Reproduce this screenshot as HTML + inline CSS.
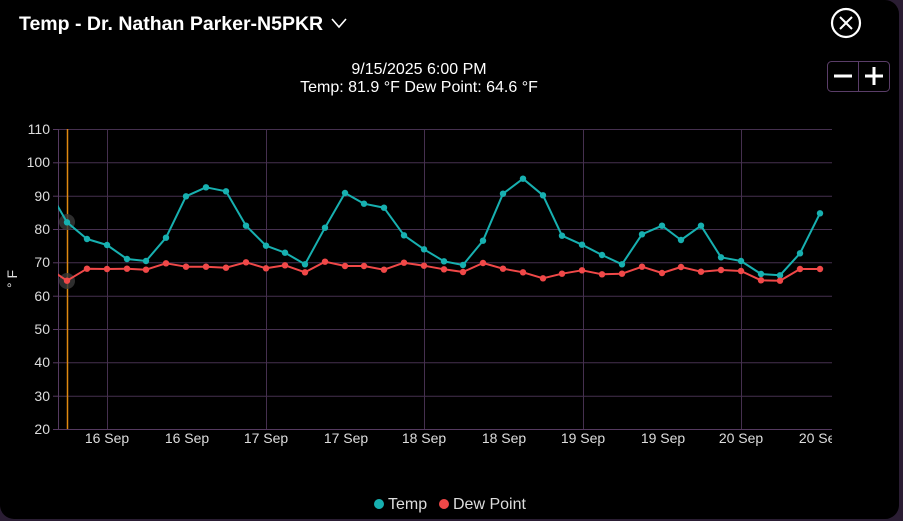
<!DOCTYPE html>
<html><head><meta charset="utf-8"><style>
html,body{margin:0;padding:0;background:#2a1d33;width:903px;height:521px;overflow:hidden}
#p{position:absolute;left:0;top:0;width:899px;height:519px;background:#000;border-radius:0 14px 14px 14px}
svg{position:absolute;left:0;top:0}
text{font-family:"Liberation Sans",sans-serif}
</style></head><body><div id="p"></div>
<svg width="903" height="521" xmlns="http://www.w3.org/2000/svg">
<text x="19" y="30" fill="#fff" font-size="19.5" font-weight="bold">Temp - Dr. Nathan Parker-N5PKR</text>
<polyline points="332,19 339,27 346,19" fill="none" stroke="#fff" stroke-width="1.6"/>
<circle cx="846" cy="23" r="14" fill="none" stroke="#fff" stroke-width="2.2"/>
<path d="M840,17 L852,29 M852,17 L840,29" stroke="#fff" stroke-width="2"/>
<rect x="827.5" y="61.5" width="62" height="30" rx="4" fill="none" stroke="#5a3d68"/>
<line x1="858.5" y1="62" x2="858.5" y2="91" stroke="#5a3d68"/>
<path d="M834,76 H852 M865,76 H883 M874,67 V85" stroke="#fff" stroke-width="3"/>
<text x="419" y="74" fill="#fff" font-size="16" text-anchor="middle">9/15/2025 6:00 PM</text>
<text x="419" y="92" fill="#fff" font-size="16" text-anchor="middle">Temp: 81.9 °F  Dew Point: 64.6 °F</text>
<g stroke="#45304f" stroke-width="1">
<line x1="58" y1="129.5" x2="832" y2="129.5"/><line x1="58" y1="162.8" x2="832" y2="162.8"/><line x1="58" y1="196.2" x2="832" y2="196.2"/><line x1="58" y1="229.5" x2="832" y2="229.5"/><line x1="58" y1="262.8" x2="832" y2="262.8"/><line x1="58" y1="296.2" x2="832" y2="296.2"/><line x1="58" y1="329.5" x2="832" y2="329.5"/><line x1="58" y1="362.8" x2="832" y2="362.8"/><line x1="58" y1="396.2" x2="832" y2="396.2"/>
<line x1="107.5" y1="129" x2="107.5" y2="429"/><line x1="266.5" y1="129" x2="266.5" y2="429"/><line x1="424.5" y1="129" x2="424.5" y2="429"/><line x1="583.5" y1="129" x2="583.5" y2="429"/><line x1="741.5" y1="129" x2="741.5" y2="429"/>
</g>
<line x1="58.5" y1="129" x2="58.5" y2="430" stroke="#553a60"/>
<line x1="58" y1="429.5" x2="832" y2="429.5" stroke="#553a60"/>
<g stroke="#553a60"><line x1="53" y1="129.5" x2="58" y2="129.5"/><line x1="53" y1="162.8" x2="58" y2="162.8"/><line x1="53" y1="196.2" x2="58" y2="196.2"/><line x1="53" y1="229.5" x2="58" y2="229.5"/><line x1="53" y1="262.8" x2="58" y2="262.8"/><line x1="53" y1="296.2" x2="58" y2="296.2"/><line x1="53" y1="329.5" x2="58" y2="329.5"/><line x1="53" y1="362.8" x2="58" y2="362.8"/><line x1="53" y1="396.2" x2="58" y2="396.2"/><line x1="53" y1="429.5" x2="58" y2="429.5"/></g>
<g fill="#ddd" font-size="14" text-anchor="end">
<text x="50" y="134">110</text><text x="50" y="167">100</text><text x="50" y="201">90</text><text x="50" y="234">80</text><text x="50" y="267">70</text><text x="50" y="301">60</text><text x="50" y="334">50</text><text x="50" y="367">40</text><text x="50" y="401">30</text><text x="50" y="434">20</text>
</g>
<text x="17" y="279" fill="#ddd" font-size="14" text-anchor="middle" transform="rotate(-90 17 279)">° F</text>
<g fill="#ddd" font-size="14" text-anchor="middle">
<text x="107" y="443">16 Sep</text><text x="187" y="443">16 Sep</text><text x="266" y="443">17 Sep</text><text x="346" y="443">17 Sep</text><text x="424" y="443">18 Sep</text><text x="504" y="443">18 Sep</text><text x="583" y="443">19 Sep</text><text x="663" y="443">19 Sep</text><text x="741" y="443">20 Sep</text>
</g>
<svg x="0" y="0" width="832" height="460"><text x="821" y="443" fill="#ddd" font-size="14" text-anchor="middle">20 Sep</text></svg>
<line x1="67.5" y1="129" x2="67.5" y2="429" stroke="#e08a10" stroke-width="1.5"/>
<circle cx="67" cy="222" r="8" fill="#3a3a3a" opacity="0.8"/>
<circle cx="67" cy="281" r="8" fill="#3a3a3a" opacity="0.8"/>
<svg x="58" y="0" width="780" height="521" viewBox="58 0 780 521">
<g fill="none" stroke-width="2" stroke-linejoin="round">
<polyline stroke="#17b0b0" points="57,205 67,222.3 87,239 107,245 127,259 146,261 166,237.7 186,196.3 206,187.3 226,191.3 246,225.7 266,245.7 285,252.7 305,264.3 325,227.7 345,193 364,203.7 384,207.7 404,235.3 424,249.3 444,261.3 463,265 483,240.7 503,193.7 523,178.7 543,195.3 562,235.7 582,244.7 602,255 622,264.3 642,234.3 662,225.7 681,240 701,225.7 721,257.3 741,261 761,274 780,275.3 800,253.3 820,213.3"/>
<polyline stroke="#f04848" points="57,274 67,280.7 87,268.7 107,269 127,268.7 146,269.7 166,263.3 186,266.7 206,266.7 226,267.7 246,262.3 266,268.3 285,265.3 305,272.3 325,261.7 345,266 364,266 384,269.7 404,262.7 424,265.7 444,269.3 463,272 483,263 503,268.7 523,272.3 543,278.3 562,273.7 582,270.3 602,274.3 622,273.7 642,266.7 662,273 681,267 701,271.7 721,270 741,271 761,280.3 780,280.7 800,269 820,269"/>
</g>
</svg>
<g fill="#17b0b0">
<circle cx="67" cy="222.3" r="3.2"/><circle cx="87" cy="239" r="3.2"/><circle cx="107" cy="245" r="3.2"/><circle cx="127" cy="259" r="3.2"/><circle cx="146" cy="261" r="3.2"/><circle cx="166" cy="237.7" r="3.2"/><circle cx="186" cy="196.3" r="3.2"/><circle cx="206" cy="187.3" r="3.2"/><circle cx="226" cy="191.3" r="3.2"/><circle cx="246" cy="225.7" r="3.2"/><circle cx="266" cy="245.7" r="3.2"/><circle cx="285" cy="252.7" r="3.2"/><circle cx="305" cy="264.3" r="3.2"/><circle cx="325" cy="227.7" r="3.2"/><circle cx="345" cy="193" r="3.2"/><circle cx="364" cy="203.7" r="3.2"/><circle cx="384" cy="207.7" r="3.2"/><circle cx="404" cy="235.3" r="3.2"/><circle cx="424" cy="249.3" r="3.2"/><circle cx="444" cy="261.3" r="3.2"/><circle cx="463" cy="265" r="3.2"/><circle cx="483" cy="240.7" r="3.2"/><circle cx="503" cy="193.7" r="3.2"/><circle cx="523" cy="178.7" r="3.2"/><circle cx="543" cy="195.3" r="3.2"/><circle cx="562" cy="235.7" r="3.2"/><circle cx="582" cy="244.7" r="3.2"/><circle cx="602" cy="255" r="3.2"/><circle cx="622" cy="264.3" r="3.2"/><circle cx="642" cy="234.3" r="3.2"/><circle cx="662" cy="225.7" r="3.2"/><circle cx="681" cy="240" r="3.2"/><circle cx="701" cy="225.7" r="3.2"/><circle cx="721" cy="257.3" r="3.2"/><circle cx="741" cy="261" r="3.2"/><circle cx="761" cy="274" r="3.2"/><circle cx="780" cy="275.3" r="3.2"/><circle cx="800" cy="253.3" r="3.2"/><circle cx="820" cy="213.3" r="3.2"/>
</g>
<g fill="#f04848">
<circle cx="67" cy="280.7" r="3.2"/><circle cx="87" cy="268.7" r="3.2"/><circle cx="107" cy="269" r="3.2"/><circle cx="127" cy="268.7" r="3.2"/><circle cx="146" cy="269.7" r="3.2"/><circle cx="166" cy="263.3" r="3.2"/><circle cx="186" cy="266.7" r="3.2"/><circle cx="206" cy="266.7" r="3.2"/><circle cx="226" cy="267.7" r="3.2"/><circle cx="246" cy="262.3" r="3.2"/><circle cx="266" cy="268.3" r="3.2"/><circle cx="285" cy="265.3" r="3.2"/><circle cx="305" cy="272.3" r="3.2"/><circle cx="325" cy="261.7" r="3.2"/><circle cx="345" cy="266" r="3.2"/><circle cx="364" cy="266" r="3.2"/><circle cx="384" cy="269.7" r="3.2"/><circle cx="404" cy="262.7" r="3.2"/><circle cx="424" cy="265.7" r="3.2"/><circle cx="444" cy="269.3" r="3.2"/><circle cx="463" cy="272" r="3.2"/><circle cx="483" cy="263" r="3.2"/><circle cx="503" cy="268.7" r="3.2"/><circle cx="523" cy="272.3" r="3.2"/><circle cx="543" cy="278.3" r="3.2"/><circle cx="562" cy="273.7" r="3.2"/><circle cx="582" cy="270.3" r="3.2"/><circle cx="602" cy="274.3" r="3.2"/><circle cx="622" cy="273.7" r="3.2"/><circle cx="642" cy="266.7" r="3.2"/><circle cx="662" cy="273" r="3.2"/><circle cx="681" cy="267" r="3.2"/><circle cx="701" cy="271.7" r="3.2"/><circle cx="721" cy="270" r="3.2"/><circle cx="741" cy="271" r="3.2"/><circle cx="761" cy="280.3" r="3.2"/><circle cx="780" cy="280.7" r="3.2"/><circle cx="800" cy="269" r="3.2"/><circle cx="820" cy="269" r="3.2"/>
</g>
<circle cx="379" cy="504" r="5" fill="#17b0b0"/>
<text x="388" y="509" fill="#ddd" font-size="16">Temp</text>
<circle cx="444" cy="504" r="5" fill="#f04848"/>
<text x="453" y="509" fill="#ddd" font-size="16">Dew Point</text>
</svg>
</body></html>
